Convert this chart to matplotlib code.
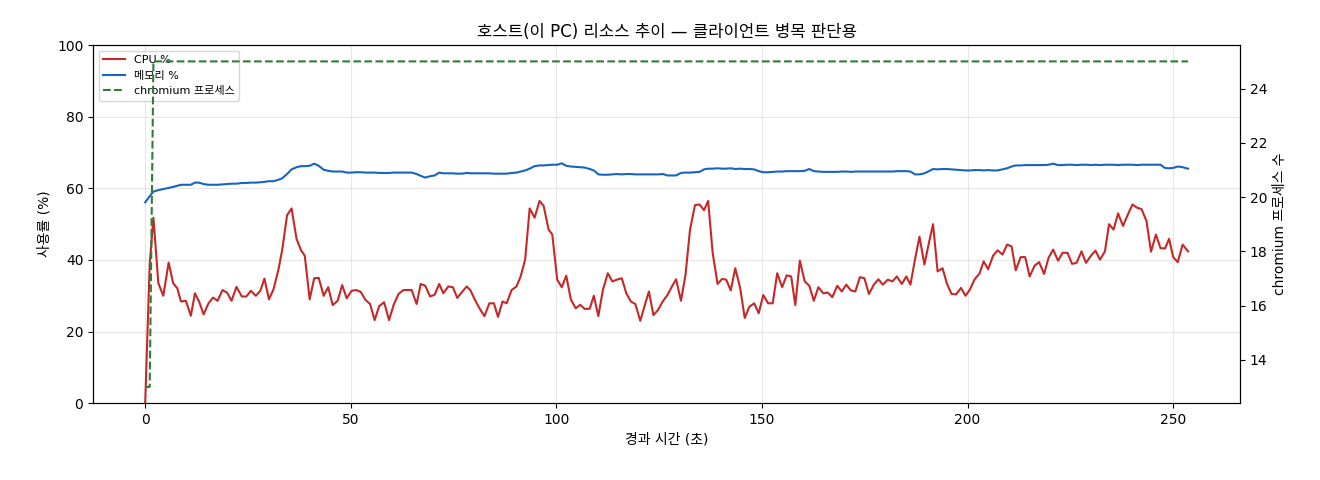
import matplotlib
matplotlib.use("Agg")
import matplotlib.pyplot as plt

plt.rcParams['font.family'] = ['DejaVu Sans', 'Noto Sans CJK KR']

# elapsed time (s)
times = [
    0.0, 1.1, 2.0, 3.2, 4.4, 5.7, 6.8, 7.8, 8.7, 9.9,
    11.1, 12.1, 13.1, 14.2, 15.4, 16.5, 17.6, 18.8, 19.9, 21.0,
    22.2, 23.5, 24.6, 25.7, 26.9, 28.0, 29.0, 30.1, 31.2, 32.4,
    33.3, 34.5, 35.6, 36.8, 37.9, 38.8, 40.0, 41.1, 42.2, 43.4,
    44.5, 45.6, 46.8, 47.9, 49.0, 50.2, 51.3, 52.4, 53.6, 54.7,
    55.8, 56.9, 58.1, 59.3, 60.4, 61.6, 62.8, 63.8, 64.8, 66.0,
    67.0, 68.1, 69.3, 70.4, 71.5, 72.5, 73.7, 74.8, 75.9, 77.0,
    78.2, 79.1, 80.3, 81.4, 82.5, 83.7, 84.8, 85.8, 86.9, 87.9,
    89.1, 90.3, 91.3, 92.4, 93.5, 94.7, 95.9, 96.9, 98.1, 99.0,
    100.2, 101.3, 102.4, 103.5, 104.7, 105.8, 106.9, 108.1, 109.1, 110.2,
    111.3, 112.5, 113.6, 114.7, 115.9, 117.0, 118.1, 119.2, 120.4, 121.5,
    122.5, 123.6, 124.7, 125.9, 127.0, 128.1, 129.1, 130.3, 131.4, 132.5,
    133.7, 134.8, 135.9, 136.9, 138.0, 139.2, 140.3, 141.3, 142.4, 143.5,
    144.7, 145.8, 146.9, 148.1, 149.2, 150.3, 151.5, 152.6, 153.7, 154.9,
    156.0, 157.1, 158.1, 159.2, 160.4, 161.5, 162.6, 163.7, 164.9, 166.0,
    167.1, 168.3, 169.4, 170.5, 171.6, 172.7, 173.8, 174.9, 176.0, 177.2,
    178.3, 179.4, 180.6, 181.7, 182.8, 184.0, 185.1, 186.1, 187.2, 188.3,
    189.5, 190.6, 191.6, 192.7, 193.9, 195.0, 196.1, 197.2, 198.4, 199.5,
    200.6, 201.7, 202.9, 203.9, 205.0, 206.2, 207.3, 208.5, 209.6, 210.7,
    211.7, 212.9, 214.0, 215.1, 216.3, 217.4, 218.6, 219.7, 220.8, 222.0,
    223.1, 224.3, 225.4, 226.5, 227.7, 228.8, 230.0, 231.1, 232.2, 233.4,
    234.4, 235.5, 236.6, 237.8, 238.9, 240.1, 241.2, 242.3, 243.5, 244.6,
    245.8, 246.9, 248.0, 249.0, 250.0, 251.1, 252.3, 253.6,
]

cpu_pct = [
    0, 39, 51.8, 33.5, 30, 39.3, 33.5, 32.1, 28.4, 28.6,
    24.4, 30.7, 28.4, 24.8, 27.9, 29.5, 28.6, 31.6, 30.9, 28.6,
    32.5, 29.8, 29.8, 31.4, 30, 31.4, 34.8, 29, 31.8, 37.3,
    42.7, 52.5, 54.4, 45.9, 42.7, 41.2, 29, 34.9, 35, 30,
    32.4, 27.4, 28.6, 33, 29.3, 31.4, 31.6, 31.1, 28.8, 27.7,
    23.2, 27.1, 28.2, 23.2, 27.4, 30.5, 31.6, 31.6, 31.6, 27.7,
    33.3, 32.8, 29.8, 30.3, 33.3, 30.7, 32.6, 32.4, 29.4, 31,
    32.6, 31.5, 28.6, 26.3, 24.3, 27.9, 27.9, 24.1, 28.4, 27.9,
    31.6, 32.6, 35.4, 40.1, 54.4, 51.8, 56.5, 55.1, 48.5, 47.1,
    34.5, 32.4, 35.6, 29, 26.5, 27.5, 26.3, 26.4, 30, 24.3,
    31.6, 36.3, 34, 34.5, 34.9, 30.7, 28.4, 27.7, 23, 27.4,
    31.2, 24.6, 26, 28.5, 30.2, 32.6, 34.6, 28.6, 35.9, 48.5,
    55.3, 55.5, 53.9, 56.5, 42, 33.3, 34.7, 34.5, 31.5, 37.7,
    32.1, 23.8, 26.9, 27.9, 25.1, 30.2, 27.9, 27.9, 36.3, 32.4,
    35.7, 35.4, 27.4, 39.8, 34, 32.8, 28.6, 32.4, 30.7, 30.9,
    29.6, 32.8, 31.2, 33.1, 31.5, 31.2, 35.2, 34.9, 30.5, 33.1,
    34.6, 33.1, 34.5, 34, 35.4, 33.3, 35.4, 33.1, 40.1, 46.5,
    38.7, 44.8, 50, 36.8, 37.7, 33.3, 30.5, 30.4, 32.2, 30,
    31.8, 34.6, 36.2, 39.6, 37.4, 41.2, 42.7, 41.5, 44.3, 43.8,
    37.1, 40.8, 40.8, 35.4, 38.4, 39.4, 36.1, 40.6, 42.9, 39.8,
    42, 42, 38.9, 39.2, 42.4, 39.2, 41.2, 42.6, 40.1, 42.4,
    50, 48.5, 53, 49.5, 52.5, 55.5, 54.6, 54.2, 50.9, 42.3,
    47.1, 43.3, 43.2, 45.9, 40.8, 39.4, 44.3, 42.4,
]

mem_pct = [
    56.1, 57.8, 59.1, 59.5, 59.8, 60.1, 60.4, 60.7, 61.0, 61.0,
    61.0, 61.6, 61.6, 61.2, 61.0, 61.0, 61.0, 61.1, 61.2, 61.3,
    61.3, 61.5, 61.5, 61.6, 61.6, 61.7, 61.8, 62.0, 62.0, 62.4,
    62.8, 64.0, 65.3, 65.9, 66.2, 66.2, 66.3, 66.9, 66.3, 65.2,
    64.9, 64.7, 64.7, 64.7, 64.4, 64.4, 64.5, 64.5, 64.4, 64.4,
    64.4, 64.3, 64.3, 64.3, 64.4, 64.4, 64.4, 64.4, 64.4, 64.0,
    63.5, 63.0, 63.4, 63.6, 64.4, 64.2, 64.2, 64.2, 64.1, 64.1,
    64.3, 64.2, 64.2, 64.2, 64.2, 64.2, 64.1, 64.1, 64.1, 64.1,
    64.3, 64.4, 64.7, 65.0, 65.5, 66.2, 66.4, 66.4, 66.5, 66.6,
    66.6, 67.0, 66.3, 66.1, 66.0, 65.9, 65.8, 65.4, 65.0, 63.9,
    63.8, 63.8, 63.9, 64.0, 63.9, 64.0, 64.0, 63.9, 63.9, 63.9,
    63.9, 63.9, 63.9, 64.0, 63.6, 63.6, 63.6, 64.3, 64.4, 64.4,
    64.5, 64.6, 65.3, 65.5, 65.5, 65.6, 65.5, 65.5, 65.6, 65.4,
    65.5, 65.4, 65.4, 65.3, 64.8, 64.5, 64.5, 64.6, 64.7, 64.7,
    64.8, 64.8, 64.8, 64.8, 64.9, 65.4, 64.8, 64.7, 64.6, 64.6,
    64.6, 64.6, 64.7, 64.7, 64.6, 64.7, 64.7, 64.7, 64.7, 64.7,
    64.7, 64.7, 64.7, 64.7, 64.8, 64.8, 64.8, 64.7, 63.9, 63.9,
    64.2, 64.8, 65.4, 65.3, 65.4, 65.4, 65.3, 65.2, 65.1, 65.0,
    65.0, 65.1, 65.1, 65.0, 65.1, 65.0, 65.0, 65.3, 65.6, 66.1,
    66.4, 66.4, 66.5, 66.5, 66.5, 66.5, 66.5, 66.6, 66.9, 66.5,
    66.5, 66.6, 66.6, 66.5, 66.6, 66.6, 66.5, 66.6, 66.5, 66.6,
    66.6, 66.6, 66.5, 66.6, 66.6, 66.6, 66.5, 66.6, 66.6, 66.6,
    66.6, 66.6, 65.7, 65.6, 65.7, 66.1, 65.9, 65.5,
]

# chromium process count: 13 for the first two samples, then 25
chromium_procs = [13, 13] + [25] * (len(times) - 2)

fig = plt.figure(figsize=(13.2, 4.8), dpi=100)
ax = fig.add_axes([0.0705, 0.160, 0.869, 0.746])
ax2 = ax.twinx()

l1, = ax.plot(times, cpu_pct, color='#c62828', lw=1.5, label='CPU %')
l2, = ax.plot(times, mem_pct, color='#1565c0', lw=1.5, label='메모리 %')
l3, = ax2.plot(times, chromium_procs, color='#2e7d32', lw=1.5, ls='--',
               label='chromium 프로세스')

ax.set_ylim(0, 100)
ax.set_xlabel('경과 시간 (초)', fontsize=10)
ax.set_ylabel('사용률 (%)', fontsize=10)
ax2.set_ylabel('chromium 프로세스 수', fontsize=10)
ax.set_title('호스트(이 PC) 리소스 추이 — 클라이언트 병목 판단용', fontsize=12)
ax.tick_params(labelsize=10)
ax2.tick_params(labelsize=10)
ax.grid(True, alpha=0.3)
ax.legend(handles=[l1, l2, l3], loc='upper left', fontsize=8)

fig.savefig('out.png', dpi=100)
